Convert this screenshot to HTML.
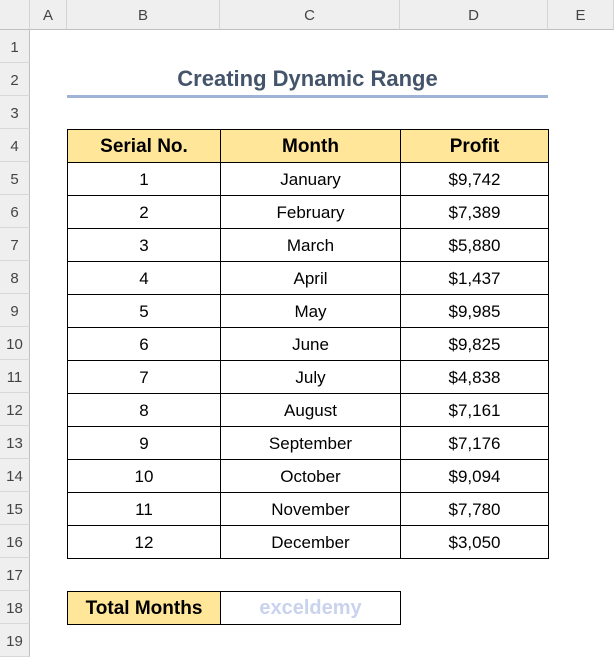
<!DOCTYPE html>
<html><head><meta charset="utf-8"><style>
body{margin:0;width:614px;height:648px;overflow:hidden;background:#fff;font-family:"Liberation Sans",sans-serif;position:relative}
.ch{position:absolute;top:0;height:30px;background:#efefef;border-right:1px solid #d4d4d4;border-bottom:1px solid #bfbfbf;box-sizing:border-box;font-size:15px;color:#444;text-align:center;line-height:32px}
.rh{position:absolute;left:0;width:30px;height:33px;background:#efefef;border-bottom:1px solid #d8d8d8;border-right:1px solid #bfbfbf;box-sizing:border-box;font-size:15px;color:#444;text-align:center;line-height:36px}
.c{position:absolute;border:1px solid #000;box-sizing:border-box;height:34px;text-align:center;line-height:33px;font-size:17px;color:#000}
.h{background:#ffe699;font-weight:bold;font-size:19px}
</style></head><body>
<div class="ch" style="left:0;width:30px"></div>
<div class="ch" style="left:30px;width:37px">A</div>
<div class="ch" style="left:67px;width:153px">B</div>
<div class="ch" style="left:220px;width:180px">C</div>
<div class="ch" style="left:400px;width:148px">D</div>
<div class="ch" style="left:548px;width:66px">E</div>
<div id="rows"></div>
<div style="position:absolute;left:67px;width:481px;top:66px;text-align:center;font-size:22px;font-weight:bold;color:#44546a">Creating Dynamic Range</div>
<div style="position:absolute;left:67px;width:481px;top:95px;height:3px;background:#9fb3d6"></div>
<div id="tbl"></div>
<div class="c h" style="left:67px;top:591px;width:154px">Total Months</div>
<div class="c" style="left:220px;top:591px;width:181px"><span style="color:#c9d3ee;font-weight:bold;font-size:20px">exceldemy</span></div>
<script>
const rh=document.getElementById('rows');
for(let i=1;i<=19;i++){const d=document.createElement('div');d.className='rh';d.style.top=(30+(i-1)*33)+'px';d.textContent=i;


rh.appendChild(d);}
const months=["January","February","March","April","May","June","July","August","September","October","November","December"];
const profits=["$9,742","$7,389","$5,880","$1,437","$9,985","$9,825","$4,838","$7,161","$7,176","$9,094","$7,780","$3,050"];
const xs=[67,220,400,548];
const tbl=document.getElementById('tbl');
function cell(r,col,txt,hdr){const d=document.createElement('div');d.className='c'+(hdr?' h':'');
d.style.left=xs[col]+'px';d.style.width=(xs[col+1]-xs[col]+1)+'px';d.style.top=(129+r*33)+'px';d.textContent=txt;


tbl.appendChild(d);}
["Serial No.","Month","Profit"].forEach((t,i)=>cell(0,i,t,true));
months.forEach((m,i)=>{cell(i+1,0,i+1);cell(i+1,1,m);cell(i+1,2,profits[i]);});
</script>
</body></html>
